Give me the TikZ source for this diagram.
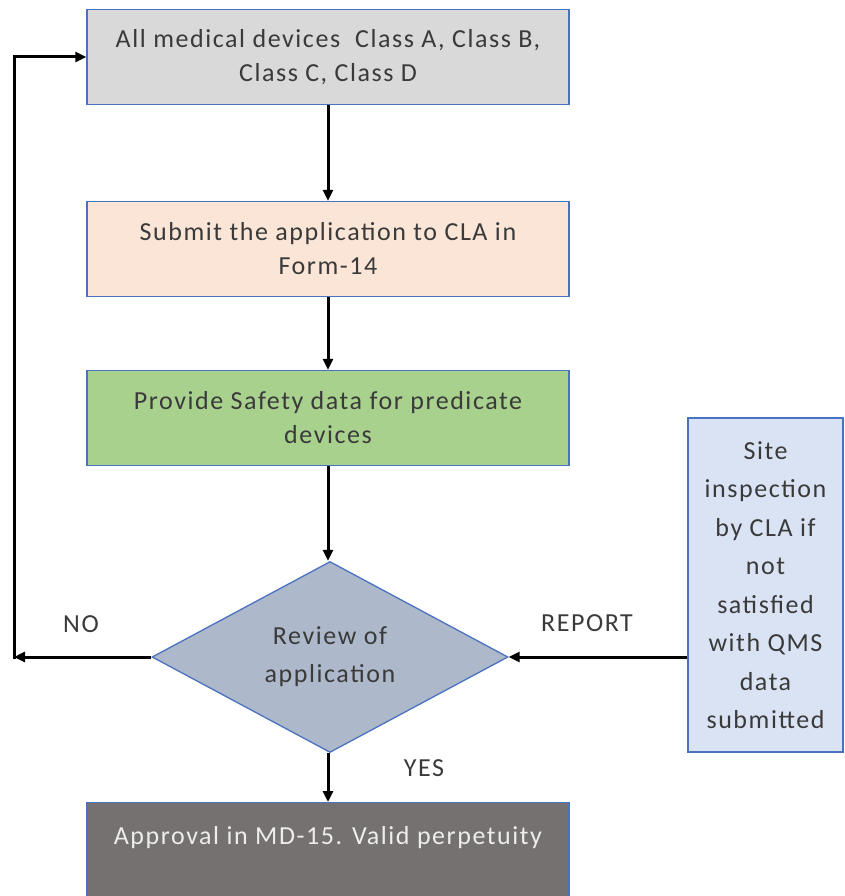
\documentclass[tikz,border=0pt]{standalone}
\usepackage{fontspec}
\setmainfont[LetterSpace=6]{Carlito}
\usetikzlibrary{shapes.geometric,arrows.meta}
\definecolor{bordblue}{HTML}{4A72C0}
\definecolor{txtgray}{HTML}{3A3A3A}
\definecolor{fillgray}{HTML}{D9D9D9}
\definecolor{fillpeach}{HTML}{FBE5D6}
\definecolor{fillgreen}{HTML}{A9D18E}
\definecolor{filldia}{HTML}{ADB9CA}
\definecolor{fillsite}{HTML}{DAE3F3}
\definecolor{filldark}{HTML}{767171}
\definecolor{txtlight}{HTML}{EDEDED}
\tikzset{
  procbox/.style={draw=bordblue, line width=1.3pt, inner sep=0pt, minimum width=482pt, minimum height=95pt,
    align=center, text=txtgray, font=\fontsize{26}{34}\selectfont},
  decbox/.style={diamond, draw=bordblue, line width=1.3pt, fill=filldia, inner sep=0pt, minimum width=356pt,
    minimum height=191pt, align=center, text=txtgray, font=\fontsize{26}{38}\selectfont},
  sitebox/.style={draw=bordblue, line width=1.3pt, fill=fillsite, inner sep=0pt, minimum width=155pt,
    minimum height=334pt, align=center, text=txtgray, font=\fontsize{26}{38.5}\selectfont},
  flow/.style={line width=3pt, -{Triangle[length=11pt,width=10pt]}},
  lbl/.style={text=txtgray, font=\fontsize{26}{30}\selectfont, inner sep=0pt}
}
\begin{document}
\begin{tikzpicture}[x=1pt,y=-1pt]
\useasboundingbox (0,0) rectangle (845,896);
\node[procbox, fill=fillgray] (b1) at (328,57) {All medical devices\ \ Class A, Class B,\\Class C, Class D};
\node[procbox, fill=fillpeach] (b2) at (328,249) {Submit the application to CLA in\\Form-14};
\node[procbox, fill=fillgreen] (b3) at (328,418) {Provide Safety data for predicate\\devices};
\node[decbox] (rev) at (330,657) {Review of\\application};
\node[sitebox] (site) at (765.5,585) {Site\\inspection\\by CLA if\\not\\satisfied\\with QMS\\data\\submitted};
\node[draw=bordblue, line width=1.3pt, fill=filldark, inner sep=0pt, minimum width=482pt, minimum height=96pt,
  anchor=north] (appr) at (328,802) {};
\node[text=txtlight, font=\fontsize{26}{30}\selectfont, inner sep=0pt] (apprtxt) at (328,838) {Approval in MD-15. Valid perpetuity};
\coordinate (corner) at (14,657);
\draw[flow] (b1.south) -- (b2.north);
\draw[flow] (b2.south) -- (b3.north);
\draw[flow] (b3.south) -- (b3.south |- rev.north);
\draw[flow] (rev.west) -- (corner);
\draw[flow] ([yshift=-1.5pt]corner) |- (b1.west);
\draw[flow] (site.west |- rev.east) -- (rev.east);
\draw[flow] (rev.south -| b3.south) -- (appr.north -| b3.south);
\node[lbl] (no) at (81,624) {NO};
\node[lbl] (rep) at (587,623) {REPORT};
\node[lbl] (yes) at (424,768) {YES};
\end{tikzpicture}
\end{document}
